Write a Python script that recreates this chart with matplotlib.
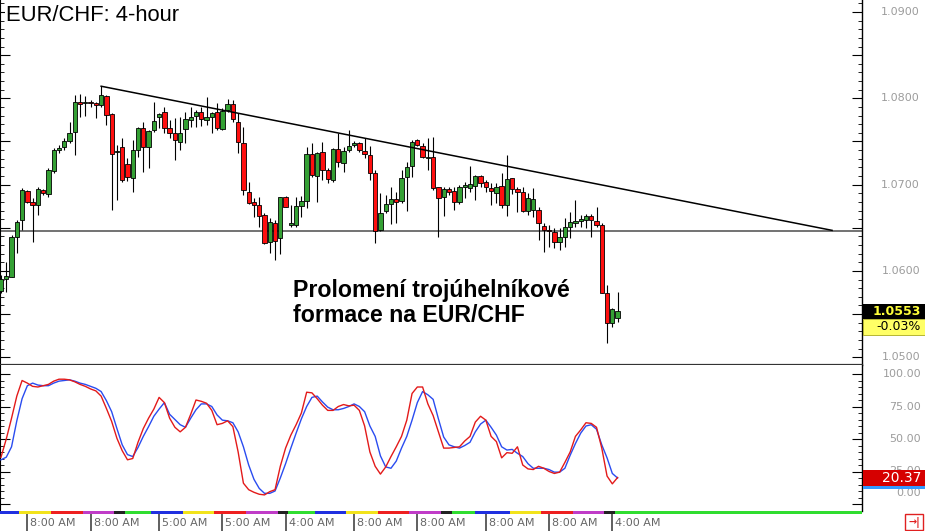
import matplotlib
matplotlib.use("Agg")
import matplotlib.pyplot as plt
import matplotlib.transforms as mtransforms
from matplotlib.patches import Rectangle
from matplotlib.ticker import FixedLocator
import numpy as np

# ---------------- data ----------------
opens = [1.0577, 1.0591, 1.0593, 1.0639, 1.0659, 1.0693, 1.0680, 1.0676, 1.0694, 1.0689,
         1.0716, 1.0740, 1.0744, 1.0751, 1.0761, 1.0796, 1.0795, 1.0796, 1.0795, 1.0792,
         1.0803, 1.0782, 1.0738, 1.0744, 1.0724, 1.0708, 1.0740, 1.0766, 1.0744, 1.0763,
         1.0778, 1.0784, 1.0766, 1.0760, 1.0749, 1.0764, 1.0775, 1.0780, 1.0784, 1.0775,
         1.0778, 1.0784, 1.0764, 1.0786, 1.0793, 1.0773, 1.0748, 1.0691, 1.0680, 1.0676,
         1.0665, 1.0633, 1.0655, 1.0638, 1.0686, 1.0653, 1.0653, 1.0675, 1.0681, 1.0735,
         1.0710, 1.0738, 1.0717, 1.0705, 1.0741, 1.0725, 1.0740, 1.0746, 1.0748, 1.0739,
         1.0734, 1.0714, 1.0647, 1.0669, 1.0678, 1.0683, 1.0681, 1.0709, 1.0722, 1.0752,
         1.0745, 1.0731, 1.0732, 1.0697, 1.0686, 1.0695, 1.0693, 1.0680, 1.0697, 1.0696,
         1.0698, 1.0710, 1.0703, 1.0696, 1.0690, 1.0698, 1.0676, 1.0708, 1.0695, 1.0691,
         1.0669, 1.0671, 1.0671, 1.0652, 1.0647, 1.0645, 1.0633, 1.0639, 1.0651, 1.0655,
         1.0658, 1.0659, 1.0664, 1.0658, 1.0653, 1.0574, 1.0540, 1.0545]
highs = [1.0595, 1.0610, 1.0642, 1.0659, 1.0696, 1.0694, 1.0685, 1.0697, 1.0695, 1.0719,
         1.0742, 1.0746, 1.0754, 1.0773, 1.0804, 1.0805, 1.0803, 1.0798, 1.0796, 1.0814,
         1.0804, 1.0783, 1.0746, 1.0754, 1.0731, 1.0752, 1.0767, 1.0773, 1.0763, 1.0796,
         1.0783, 1.0790, 1.0775, 1.0777, 1.0778, 1.0784, 1.0790, 1.0786, 1.0790, 1.0802,
         1.0784, 1.0795, 1.0789, 1.0799, 1.0798, 1.0783, 1.0767, 1.0703, 1.0685, 1.0686,
         1.0667, 1.0661, 1.0659, 1.0686, 1.0687, 1.0676, 1.0686, 1.0687, 1.0744, 1.0748,
         1.0738, 1.0749, 1.0719, 1.0742, 1.0760, 1.0744, 1.0763, 1.0751, 1.0749, 1.0754,
         1.0745, 1.0717, 1.0690, 1.0688, 1.0697, 1.0691, 1.0717, 1.0726, 1.0752, 1.0753,
         1.0748, 1.0754, 1.0755, 1.0697, 1.0697, 1.0697, 1.0697, 1.0700, 1.0703, 1.0722,
         1.0711, 1.0711, 1.0705, 1.0702, 1.0702, 1.0714, 1.0734, 1.0708, 1.0697, 1.0697,
         1.0690, 1.0696, 1.0674, 1.0655, 1.0653, 1.0650, 1.0650, 1.0661, 1.0668, 1.0682,
         1.0665, 1.0666, 1.0666, 1.0674, 1.0655, 1.0584, 1.0557, 1.0576]
lows = [1.0574, 1.0576, 1.0593, 1.0621, 1.0647, 1.0679, 1.0633, 1.0665, 1.0688, 1.0686,
        1.0714, 1.0737, 1.0740, 1.0748, 1.0734, 1.0778, 1.0780, 1.0790, 1.0777, 1.0790,
        1.0769, 1.0671, 1.0682, 1.0703, 1.0704, 1.0691, 1.0732, 1.0715, 1.0719, 1.0761,
        1.0766, 1.0760, 1.0754, 1.0729, 1.0740, 1.0748, 1.0767, 1.0767, 1.0768, 1.0769,
        1.0760, 1.0763, 1.0763, 1.0784, 1.0773, 1.0737, 1.0688, 1.0678, 1.0662, 1.0651,
        1.0631, 1.0621, 1.0613, 1.0620, 1.0674, 1.0651, 1.0651, 1.0662, 1.0673, 1.0709,
        1.0680, 1.0705, 1.0702, 1.0703, 1.0720, 1.0715, 1.0738, 1.0744, 1.0738, 1.0731,
        1.0705, 1.0632, 1.0646, 1.0667, 1.0654, 1.0655, 1.0679, 1.0669, 1.0709, 1.0745,
        1.0731, 1.0717, 1.0694, 1.0639, 1.0664, 1.0688, 1.0671, 1.0678, 1.0685, 1.0691,
        1.0682, 1.0697, 1.0691, 1.0676, 1.0679, 1.0673, 1.0664, 1.0689, 1.0668, 1.0668,
        1.0665, 1.0662, 1.0636, 1.0622, 1.0628, 1.0627, 1.0624, 1.0628, 1.0638, 1.0651,
        1.0651, 1.0650, 1.0639, 1.0651, 1.0574, 1.0517, 1.0535, 1.0541]
closes = [1.0591, 1.0594, 1.0639, 1.0657, 1.0694, 1.0680, 1.0676, 1.0695, 1.0690, 1.0717,
          1.0740, 1.0742, 1.0751, 1.0760, 1.0796, 1.0793, 1.0796, 1.0795, 1.0792, 1.0804,
          1.0781, 1.0735, 1.0739, 1.0705, 1.0709, 1.0740, 1.0766, 1.0744, 1.0762, 1.0774,
          1.0782, 1.0766, 1.0760, 1.0752, 1.0760, 1.0776, 1.0778, 1.0784, 1.0776, 1.0778,
          1.0783, 1.0766, 1.0785, 1.0793, 1.0776, 1.0749, 1.0694, 1.0679, 1.0676, 1.0664,
          1.0632, 1.0657, 1.0635, 1.0686, 1.0674, 1.0655, 1.0675, 1.0681, 1.0735, 1.0711,
          1.0737, 1.0717, 1.0707, 1.0741, 1.0726, 1.0739, 1.0745, 1.0748, 1.0740, 1.0735,
          1.0714, 1.0646, 1.0667, 1.0678, 1.0683, 1.0680, 1.0708, 1.0720, 1.0749, 1.0746,
          1.0732, 1.0732, 1.0696, 1.0685, 1.0695, 1.0691, 1.0680, 1.0697, 1.0700, 1.0701,
          1.0710, 1.0702, 1.0697, 1.0693, 1.0697, 1.0676, 1.0707, 1.0695, 1.0691, 1.0669,
          1.0685, 1.0683, 1.0655, 1.0647, 1.0646, 1.0633, 1.0639, 1.0651, 1.0657, 1.0658,
          1.0660, 1.0664, 1.0659, 1.0653, 1.0574, 1.0540, 1.0556, 1.0553]

stoch_k = [36, 50, 66, 83, 95, 93, 90.5, 90, 91, 92,
           94.5, 96, 96, 95.5, 94, 92, 90.5, 88.5, 87, 83,
           73.5, 63.5, 50.5, 41, 34, 35, 47.5, 58, 66, 73,
           82, 78, 66, 59, 55.5, 59, 69, 80, 79, 77.5,
           72, 61, 62, 64, 59.5, 40, 16, 11, 9, 7.5,
           7, 9.5, 11, 29, 43, 53, 61, 70, 86, 85.5,
           81, 76, 72, 72, 75, 76.5, 75.5, 76, 72, 60,
           40, 29, 23, 28.5, 36.5, 44, 52, 64.5, 85, 90,
           90, 77, 68, 55.5, 43, 43, 43.5, 44, 48.5, 52,
           63, 67.5, 64.5, 52, 48, 35.5, 39.5, 39, 44, 30,
           27, 26.5, 29, 27.5, 25, 23.5, 24.5, 32, 40, 52,
           57, 62.5, 62, 59, 43, 21.5, 15.5, 20.37]
stoch_d = [34, 36, 44, 64, 81, 91, 93, 91.5, 91, 91,
           93, 94.5, 95, 95.5, 94.5, 93, 92, 90.5, 89, 86.5,
           79.5, 71, 58, 45.5, 38, 36.5, 43.5, 52, 59.5, 67.5,
           73, 78, 69, 65, 61, 59, 66, 72.5, 77, 77,
           75, 68.5, 64.5, 64, 62.5, 55.5, 44, 30, 19, 12,
           8.2, 8.2, 10, 20, 31, 43, 54.5, 65.5, 75, 82,
           83, 78.5, 74.5, 72.5, 72.5, 73.5, 75, 77, 75, 71,
           60, 52, 37, 28.5, 27.5, 33, 43, 52, 64.5, 78,
           86.5, 84, 80.5, 65.5, 51.5, 45.5, 44, 43, 45, 47.5,
           55.5, 61.5, 64.5, 59, 53, 44, 41.5, 42, 39, 36.5,
           31, 27.5, 27.5, 27.5, 26.5, 24.5, 24.5, 27.5, 37.5, 46.5,
           54.5, 60, 61, 57.5, 45.5, 35.5, 23.5, 20]

support_level = 1.0646
trend_x = [19, 157.7]
trend_y = [1.0814, 1.0647]

price_tick_labels = ["1.0500", "1.0600", "1.0700", "1.0800", "1.0900"]
stoch_tick_labels = ["0.00", "25.00", "50.00", "75.00", "100.00"]
last_price_label = "1.0553"
change_label = "-0.03%"
stoch_last_label = "20.37"

time_labels = ["8:00 AM", "8:00 AM", "5:00 AM", "5:00 AM", "4:00 AM",
               "8:00 AM", "8:00 AM", "8:00 AM", "8:00 AM", "4:00 AM"]
time_label_idx = [5, 17, 30, 42, 54, 67, 79, 92, 104, 116]

day_bounds = [-0.5, 3.5, 9.5, 15.5, 21.5, 23.5, 28.5, 34.5, 40.5, 46.5, 52.5, 54.5,
              59.5, 65.5, 71.5, 77.5, 83.5, 85.5, 90.0, 96.5, 102.5, 108.5, 114.5,
              116.5, 170]
day_colors = ["#2030e0", "#f2e31c", "#ee2020", "#c03cc8", "#222222", "#30dd30"] * 4

title = "EUR/CHF: 4-hour"
note_line1 = "Prolomení trojúhelníkové"
note_line2 = "formace na EUR/CHF"

# ---------------- layout ----------------
W, H, DPI = 925, 531, 100
PX = 5.27  # pixels per candle
fig = plt.figure(figsize=(W / DPI, H / DPI), dpi=DPI)
fig.patch.set_facecolor("white")


def fx(px):
    return px / W


def fy(py):
    return 1 - py / H


ax = fig.add_axes([0, fy(365), fx(862), 365 / H])
ax_s = fig.add_axes([0, fy(511), fx(862), (511 - 365) / H], sharex=ax)
ax_t = fig.add_axes([0, 0, fx(862), 20 / H], sharex=ax)

n = len(opens)
idx = np.arange(n)
o = np.array(opens); h = np.array(highs); l = np.array(lows); c = np.array(closes)

xmin = -1 / PX
xmax = (862 - 1) / PX
ax.set_xlim(xmin, xmax)
ax.set_ylim(1.04910, 1.09139)

GREEN = "#34a034"
RED = "#ff0f0f"
up = c >= o
cols = np.where(up, GREEN, RED)

ax.vlines(idx, l, h, color="black", linewidth=0.8, zorder=2)
body = np.where(np.abs(c - o) < 0.00005, 0.00005, c - o)
ax.bar(idx, body, bottom=o, width=0.82, color=cols, edgecolor="black",
       linewidth=0.6, zorder=3)

ax.axhline(support_level, color="#5a5a5a", linewidth=1.2, zorder=1)
ax.plot(trend_x, trend_y, color="black", linewidth=1.1, zorder=4)

# price axis ticks
ax.yaxis.set_major_locator(FixedLocator(np.arange(1.050, 1.09001, 0.005)))
ax.yaxis.set_minor_locator(FixedLocator(np.arange(1.049, 1.0914, 0.001)))
ax.tick_params(axis="y", which="major", direction="in", length=7, width=0.8,
               left=True, right=True, labelleft=False, labelright=False)
ax.tick_params(axis="y", which="minor", direction="in", length=3, width=0.6,
               left=True, right=True)
ax.tick_params(axis="x", which="both", bottom=False, top=False,
               labelbottom=False)
ax.spines["top"].set_visible(False)
ax.spines["right"].set_color("black")
ax.spines["right"].set_linewidth(1.0)
ax.spines["left"].set_linewidth(0.8)
ax.spines["bottom"].set_color("#333333")
ax.spines["bottom"].set_linewidth(1.6)

trans_p = mtransforms.blended_transform_factory(fig.transFigure, ax.transData)
for lab in price_tick_labels:
    ax.text(fx(920), float(lab), lab, transform=trans_p, ha="right", va="center",
            fontsize=8, color="#9c9c9c", clip_on=False)

# stochastic panel
ax_s.set_ylim((504 - 511) / 1.3, (504 - 365) / 1.3)
ax_s.plot(idx, stoch_d, color="#2a4cf0", linewidth=1.0, zorder=3)
ax_s.plot(idx, stoch_k, color="#e31a1a", linewidth=1.0, zorder=4)
ax_s.yaxis.set_major_locator(FixedLocator([0, 25, 50, 75, 100]))
ax_s.yaxis.set_minor_locator(FixedLocator(np.arange(0, 101, 5)))
ax_s.tick_params(axis="y", which="major", direction="in", length=7, width=0.8,
                 left=True, right=True, labelleft=False, labelright=False)
ax_s.tick_params(axis="y", which="minor", direction="in", length=3, width=0.6,
                 left=True, right=True)
ax_s.tick_params(axis="x", which="both", bottom=False, top=False,
                 labelbottom=False)
ax_s.spines["top"].set_visible(False)
ax_s.spines["bottom"].set_visible(False)
ax_s.spines["left"].set_linewidth(0.8)
ax_s.spines["right"].set_linewidth(1.0)

trans_s = mtransforms.blended_transform_factory(fig.transFigure, ax_s.transData)
for lab in stoch_tick_labels:
    v = float(lab)
    off = mtransforms.ScaledTranslation(0, 8 / 72 if v == 0 else 0, fig.dpi_scale_trans)
    ax_s.text(fx(921), v, lab, transform=trans_s + off, ha="right", va="center",
              fontsize=8, color="#9c9c9c", clip_on=False)

# time strip
ax_t.set_ylim(20, 0)
ax_t.axis("off")
for i in range(len(day_colors)):
    a, b = day_bounds[i], min(day_bounds[i + 1], xmax)
    ax_t.add_patch(Rectangle((a, 0), b - a, 3.2, facecolor=day_colors[i],
                             edgecolor="none", clip_on=True))
ax_t.vlines(time_label_idx, 3.2, 20, color="#444444", linewidth=1.2)
for i, lab in zip(time_label_idx, time_labels):
    ax_t.text(i + 3 / PX, 12, lab, ha="left", va="center", fontsize=8,
              color="#666666")

# right-side value boxes
fig.canvas.draw()
inv = fig.transFigure.inverted()
last_y = inv.transform(ax.transData.transform((0, closes[-1])))[1]
bh = 15 / H
fig.add_artist(Rectangle((fx(863), last_y - bh / 2), fx(62), bh,
                         transform=fig.transFigure, facecolor="black",
                         edgecolor="none", zorder=5))
fig.text(fx(921), last_y, last_price_label, ha="right", va="center",
         fontsize=9, color="#ffff3a", fontweight="bold", zorder=6)
yb = last_y - bh / 2
fig.add_artist(Rectangle((fx(863), yb - 16 / H), fx(62), 16 / H,
                         transform=fig.transFigure, facecolor="#ffff66",
                         edgecolor="#999900", linewidth=0.5, zorder=5))
fig.text(fx(921), yb - 8 / H, change_label, ha="right", va="center",
         fontsize=9, color="black", zorder=6)

s_y = inv.transform(ax_s.transData.transform((0, stoch_k[-1])))[1]
sh = 16 / H
fig.add_artist(Rectangle((fx(863), s_y - sh / 2), fx(62), sh,
                         transform=fig.transFigure, facecolor="#d60000",
                         edgecolor="none", zorder=5))
fig.add_artist(Rectangle((fx(863), s_y - sh / 2 - 3 / H), fx(62), 3 / H,
                         transform=fig.transFigure, facecolor="#3399ff",
                         edgecolor="none", zorder=5))
fig.text(fx(921), s_y, stoch_last_label, ha="right", va="center",
         fontsize=10, color="white", zorder=6)

# scroll icon
fig.add_artist(Rectangle((fx(905), fy(530)), fx(18), 16 / H,
                         transform=fig.transFigure, facecolor="white",
                         edgecolor="#e02020", linewidth=1.0, zorder=5))
fig.text(fx(914), fy(522), "→|", ha="center", va="center", fontsize=7,
         color="#e02020", fontweight="bold", zorder=6)

# title and annotation
fig.text(fx(6), fy(21), title, ha="left", va="baseline", fontsize=15.8,
         family="Liberation Sans", color="black",
         bbox=dict(facecolor="white", edgecolor="none", pad=1))
fig.text(fx(293), fy(297), note_line1, ha="left", va="baseline", fontsize=16.7,
         family="Liberation Sans", fontweight="bold", color="black")
fig.text(fx(293), fy(322), note_line2, ha="left", va="baseline", fontsize=16.7,
         family="Liberation Sans", fontweight="bold", color="black")

fig.savefig("out.png", dpi=DPI, facecolor="white")
